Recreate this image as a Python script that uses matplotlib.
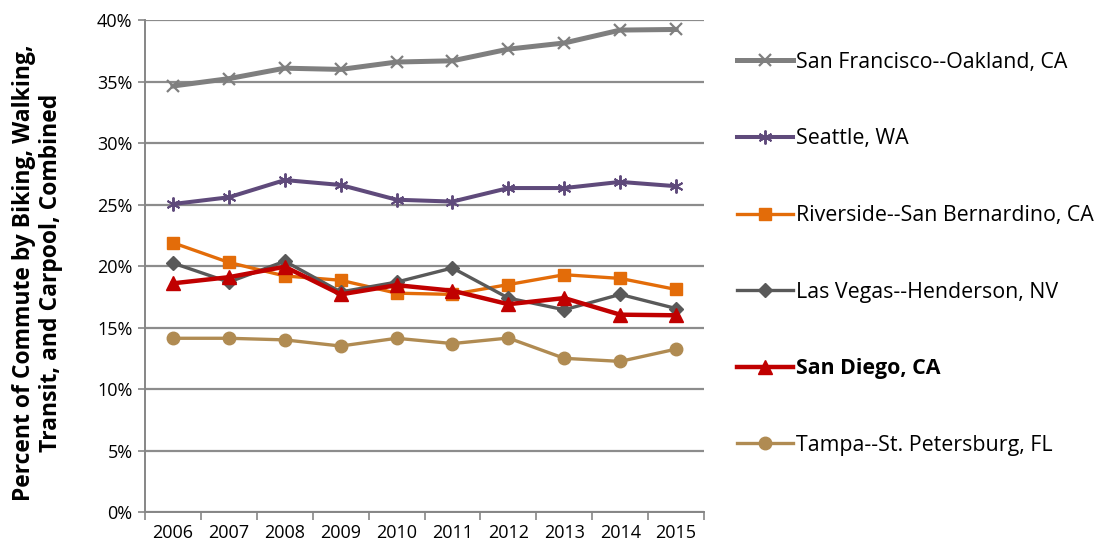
import matplotlib
matplotlib.use("Agg")
import matplotlib.pyplot as plt
from matplotlib.ticker import FixedLocator, PercentFormatter

plt.rcParams['font.family'] = ['Open Sans', 'DejaVu Sans']

# Data (percent of commute)
years = ['2006', '2007', '2008', '2009', '2010', '2011', '2012', '2013', '2014', '2015']

san_francisco = [34.65, 35.25, 36.1, 36.0, 36.6, 36.7, 37.65, 38.15, 39.2, 39.25]
seattle = [25.05, 25.6, 27.0, 26.6, 25.4, 25.25, 26.35, 26.35, 26.85, 26.5]
riverside = [21.9, 20.3, 19.2, 18.85, 17.8, 17.7, 18.5, 19.3, 19.0, 18.1]
las_vegas = [20.25, 18.7, 20.4, 17.9, 18.7, 19.85, 17.4, 16.45, 17.7, 16.55]
san_diego = [18.6, 19.1, 19.95, 17.7, 18.45, 18.0, 16.9, 17.4, 16.05, 16.0]
tampa = [14.13, 14.13, 14.0, 13.5, 14.13, 13.7, 14.15, 12.5, 12.25, 13.25]

series = [
    ("San Francisco--Oakland, CA", san_francisco, '#7f7f7f', 'x', 9, 3.6, 1.6),
    ("Seattle, WA", seattle, '#5f4a7b', (6, 2, 0), 10, 2.9, 1.4),
    ("Riverside--San Bernardino, CA", riverside, '#e36c09', 's', 9, 2.4, 1.0),
    ("Las Vegas--Henderson, NV", las_vegas, '#595959', 'D', 7, 2.4, 1.0),
    ("San Diego, CA", san_diego, '#c00000', '^', 10, 3.2, 1.0),
    ("Tampa--St. Petersburg, FL", tampa, '#b08b52', 'o', 9, 2.4, 1.0),
]

fig = plt.figure(figsize=(11.07, 5.47), dpi=100)
ax = fig.add_axes([0.131, 0.064, 0.505, 0.899])

x = list(range(len(years)))
for label, vals, color, marker, ms, lw, mew in series:
    ax.plot(x, vals, color=color, marker=marker, markersize=ms, linewidth=lw,
            markeredgewidth=mew, markeredgecolor=color, markerfacecolor=color,
            label=label, zorder=3)

ax.set_xlim(-0.5, 9.5)
ax.set_ylim(0, 40)
ax.yaxis.set_major_locator(FixedLocator(range(0, 41, 5)))
ax.yaxis.set_major_formatter(PercentFormatter(decimals=0))
ax.set_xticks(x)
ax.set_xticklabels(years)
ax.set_xticks([i - 0.5 for i in range(11)], minor=True)
ax.tick_params(axis='x', which='major', length=0, pad=9, labelsize=13)
ax.tick_params(axis='x', which='minor', length=6, width=1.2, color='#868686', direction='out')
ax.tick_params(axis='y', length=5, width=1.2, color='#868686', labelsize=13, pad=4)

ax.grid(axis='y', color='#8c8c8c', linewidth=1.6, zorder=0)
ax.set_axisbelow(True)
for side in ['top', 'right']:
    ax.spines[side].set_visible(False)
for side in ['left', 'bottom']:
    ax.spines[side].set_color('#868686')
    ax.spines[side].set_linewidth(1.4)

fig.text(0.034, 0.501, "Percent of Commute by Biking, Walking,\nTransit, and Carpool, Combined",
         rotation=90, ha='center', va='center', fontsize=16.5, fontweight='bold',
         linespacing=1.15)

leg = fig.legend(loc='upper left', bbox_to_anchor=(0.658, 0.921), frameon=False,
                 fontsize=15.4, labelspacing=2.6, handlelength=2.6, handletextpad=0.15,
                 borderaxespad=0)
for text in leg.get_texts():
    if text.get_text() == "San Diego, CA":
        text.set_fontweight('bold')

fig.savefig("out.png", dpi=100)
